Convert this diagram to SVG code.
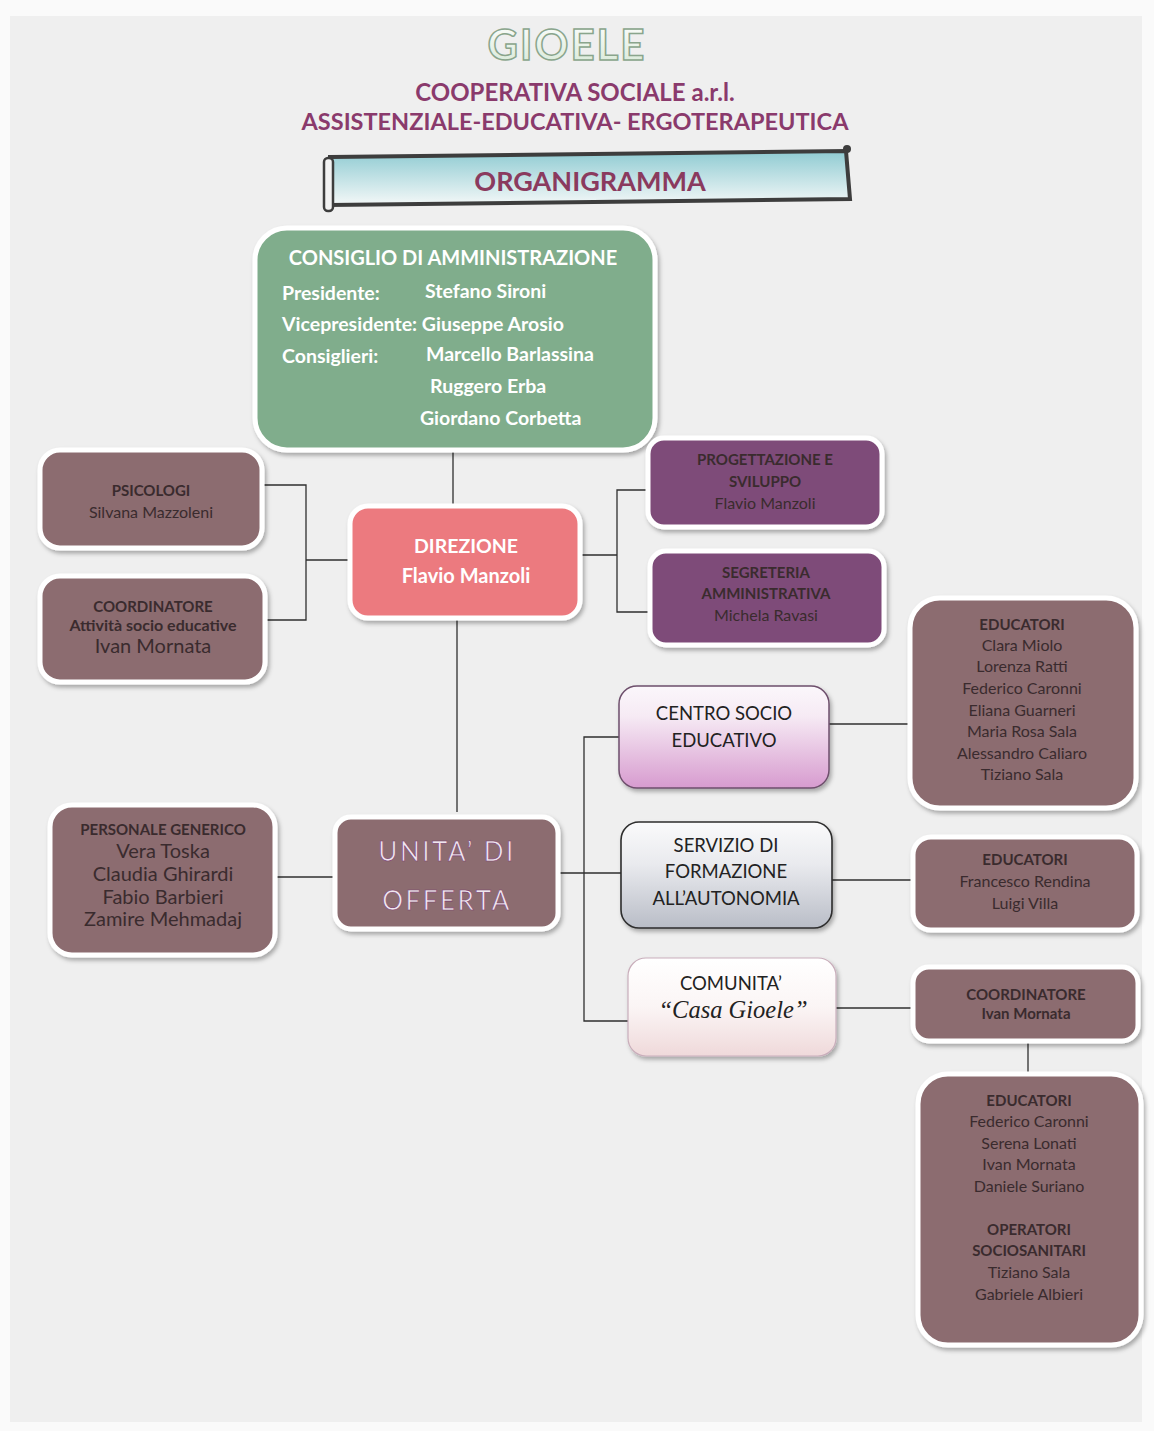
<svg xmlns="http://www.w3.org/2000/svg" width="1154" height="1431" viewBox="0 0 1154 1431">
<defs>
<style>
text{font-family:Lato,"Open Sans","Liberation Sans",sans-serif;text-anchor:middle}
.card{stroke:#ffffff;stroke-width:5;filter:url(#sh)}
.mauve{fill:#8c6c70}
.purple{fill:#7e4b79}
.dk{fill:#3a2b2e}
.b{font-weight:700}
.h{font-size:15px;font-weight:700}
.n{font-size:16px}
.conn{stroke:#2f2f2f;stroke-width:1.3;fill:none}
.wt{fill:#ffffff;font-weight:700}
.cda{fill:#ffffff;font-weight:700;font-size:19.5px;text-anchor:start}
</style>
<filter id="sh" x="-10%" y="-10%" width="125%" height="130%">
<feDropShadow dx="2" dy="3" stdDeviation="2" flood-color="#000" flood-opacity="0.3"/>
</filter>
<linearGradient id="gBanner" x1="0" y1="0" x2="0" y2="1">
<stop offset="0" stop-color="#8fcbd2"/><stop offset="1" stop-color="#f4f8f8"/>
</linearGradient>
<linearGradient id="gCse" x1="0" y1="0" x2="0" y2="1">
<stop offset="0" stop-color="#fbf7fb"/><stop offset="0.3" stop-color="#f6eaf4"/><stop offset="1" stop-color="#d79bcf"/>
</linearGradient>
<linearGradient id="gSfa" x1="0" y1="0" x2="0" y2="1">
<stop offset="0" stop-color="#fafafb"/><stop offset="0.4" stop-color="#e9eaee"/><stop offset="1" stop-color="#b9bdc7"/>
</linearGradient>
<linearGradient id="gCom" x1="0" y1="0" x2="0" y2="1">
<stop offset="0" stop-color="#ffffff"/><stop offset="0.5" stop-color="#fbf5f5"/><stop offset="1" stop-color="#efd9da"/>
</linearGradient>
<linearGradient id="gTitle" x1="0" y1="0" x2="0" y2="1">
<stop offset="0" stop-color="#ffffff"/><stop offset="1" stop-color="#d6e8d6"/>
</linearGradient>
</defs>

<rect width="1154" height="1431" fill="#fafafa"/>
<rect x="10" y="16" width="1132" height="1406" fill="#efefef"/>

<g id="header">
<text x="567" y="60" font-size="42" font-weight="700" fill="url(#gTitle)" stroke="#8aa58c" stroke-width="1.5" letter-spacing="2">GIOELE</text>
<text x="575" y="101" font-size="24" font-weight="700" fill="#8a3a6c">COOPERATIVA SOCIALE a.r.l.</text>
<text x="575" y="130" font-size="23.5" font-weight="700" fill="#8a3a6c">ASSISTENZIALE-EDUCATIVA- ERGOTERAPEUTICA</text>
</g>

<g id="banner">
<path d="M330 157 L846 151 L850 199 L330 205 Z" fill="url(#gBanner)" stroke="#3d3d3d" stroke-width="4"/>
<rect x="324" y="158" width="9" height="53" rx="4" fill="#f2f2f2" stroke="#3d3d3d" stroke-width="2.5"/>
<circle cx="847" cy="149" r="4" fill="#3d3d3d"/>
<text x="590" y="191" font-size="27" font-weight="700" fill="#8a3a5e">ORGANIGRAMMA</text>
</g>

<g id="connectors">
<path class="conn" d="M453 450 V506"/>
<path class="conn" d="M262 485 H306 V620 H265 M306 560 H350"/>
<path class="conn" d="M580 555 H617 M648 490 H617 V612 H650"/>
<path class="conn" d="M457 618 V812"/>
<path class="conn" d="M275 877 H335"/>
<path class="conn" d="M558 873 H622 M619 737 H584 V1021 H628"/>
<path class="conn" d="M829 724 H910"/>
<path class="conn" d="M832 880 H913"/>
<path class="conn" d="M836 1008 H913"/>
<path class="conn" d="M1028 1041 V1074"/>
</g>

<g id="cda">
<rect class="card" x="255" y="228" width="400" height="222" rx="32" fill="#80ad8c"/>
<text class="wt" x="453" y="265" font-size="20">CONSIGLIO DI AMMINISTRAZIONE</text>
<text class="cda" x="282" y="300">Presidente:</text>
<text class="cda" x="425" y="298">Stefano Sironi</text>
<text class="cda" x="282" y="331">Vicepresidente: Giuseppe Arosio</text>
<text class="cda" x="282" y="363">Consiglieri:</text>
<text class="cda" x="426" y="361">Marcello Barlassina</text>
<text class="cda" x="430" y="393">Ruggero Erba</text>
<text class="cda" x="420" y="425">Giordano Corbetta</text>
</g>

<g id="psicologi">
<rect class="card mauve" x="40" y="450" width="222" height="98" rx="20"/>
<text class="dk h" x="151" y="496">PSICOLOGI</text>
<text class="dk n" x="151" y="518">Silvana Mazzoleni</text>
</g>

<g id="coordinatore-ase">
<rect class="card mauve" x="40" y="576" width="225" height="106" rx="20"/>
<text class="dk h" x="153" y="612">COORDINATORE</text>
<text class="dk b" x="153" y="631" font-size="16">Attività socio educative</text>
<text class="dk" x="153" y="653" font-size="20">Ivan Mornata</text>
</g>

<g id="direzione">
<rect class="card" x="350" y="506" width="230" height="112" rx="18" fill="#ec7a7f"/>
<text class="wt" x="466" y="553" font-size="19.5" font-weight="400">DIREZIONE</text>
<text class="wt" x="466" y="583" font-size="20" font-weight="400">Flavio Manzoli</text>
</g>

<g id="progettazione">
<rect class="card purple" x="648" y="438" width="234" height="89" rx="16"/>
<text class="dk h" x="765" y="465">PROGETTAZIONE E</text>
<text class="dk h" x="765" y="487">SVILUPPO</text>
<text class="dk n" x="765" y="509">Flavio Manzoli</text>
</g>

<g id="segreteria">
<rect class="card purple" x="650" y="551" width="234" height="94" rx="16"/>
<text class="dk h" x="766" y="578">SEGRETERIA</text>
<text class="dk h" x="766" y="599">AMMINISTRATIVA</text>
<text class="dk n" x="766" y="621">Michela Ravasi</text>
</g>

<g id="centro-socio-educativo">
<rect x="619" y="686" width="210" height="102" rx="18" fill="url(#gCse)" stroke="#6e4f6c" stroke-width="1.5" filter="url(#sh)"/>
<text x="724" y="720" font-size="18.5" fill="#222">CENTRO SOCIO</text>
<text x="724" y="747" font-size="18.5" fill="#222">EDUCATIVO</text>
</g>

<g id="educatori-cse">
<rect class="card mauve" x="910" y="598" width="226" height="210" rx="30"/>
<text class="dk h" x="1022" y="630">EDUCATORI</text>
<text class="dk n" x="1022" y="651">Clara Miolo</text>
<text class="dk n" x="1022" y="672">Lorenza Ratti</text>
<text class="dk n" x="1022" y="694">Federico Caronni</text>
<text class="dk n" x="1022" y="716">Eliana Guarneri</text>
<text class="dk n" x="1022" y="737">Maria Rosa Sala</text>
<text class="dk n" x="1022" y="759">Alessandro Caliaro</text>
<text class="dk n" x="1022" y="780">Tiziano Sala</text>
</g>

<g id="personale-generico">
<rect class="card mauve" x="50" y="805" width="225" height="150" rx="22"/>
<text class="dk h" x="163" y="835">PERSONALE GENERICO</text>
<text class="dk" x="163" y="858" font-size="20">Vera Toska</text>
<text class="dk" x="163" y="881" font-size="20">Claudia Ghirardi</text>
<text class="dk" x="163" y="904" font-size="20">Fabio Barbieri</text>
<text class="dk" x="163" y="926" font-size="20">Zamire Mehmadaj</text>
</g>

<g id="unita-offerta">
<rect class="card mauve" x="335" y="817" width="223" height="112" rx="16"/>
<text x="447" y="861" font-size="26" letter-spacing="2.5" fill="#efe6ee" stroke="#7a3c6e" stroke-width="0.6">UNITA’ DI</text>
<text x="447" y="910" font-size="26" letter-spacing="2.5" fill="#efe6ee" stroke="#7a3c6e" stroke-width="0.6">OFFERTA</text>
</g>

<g id="servizio-formazione">
<rect x="621" y="822" width="211" height="106" rx="18" fill="url(#gSfa)" stroke="#2d2d2d" stroke-width="1.6" filter="url(#sh)"/>
<text x="726" y="852" font-size="18.5" fill="#222">SERVIZIO DI</text>
<text x="726" y="878" font-size="18.5" fill="#222">FORMAZIONE</text>
<text x="726" y="905" font-size="18.5" fill="#222">ALL’AUTONOMIA</text>
</g>

<g id="educatori-sfa">
<rect class="card mauve" x="913" y="837" width="224" height="93" rx="18"/>
<text class="dk h" x="1025" y="865">EDUCATORI</text>
<text class="dk n" x="1025" y="887">Francesco Rendina</text>
<text class="dk n" x="1025" y="909">Luigi Villa</text>
</g>

<g id="comunita">
<rect x="628" y="958" width="208" height="98" rx="18" fill="url(#gCom)" stroke="#c9aebb" stroke-width="1.2" filter="url(#sh)"/>
<text x="731" y="990" font-size="18.5" fill="#222">COMUNITA’</text>
<text x="733" y="1018" font-size="24.5" font-style="italic" fill="#222" style="font-family:'Liberation Serif','DejaVu Serif',serif">“Casa Gioele”</text>
</g>

<g id="coordinatore-comunita">
<rect class="card mauve" x="913" y="967" width="225" height="74" rx="16"/>
<text class="dk h" x="1026" y="1000">COORDINATORE</text>
<text class="dk h" x="1026" y="1019">Ivan Mornata</text>
</g>

<g id="educatori-comunita">
<rect class="card mauve" x="918" y="1074" width="223" height="271" rx="30"/>
<text class="dk h" x="1029" y="1106">EDUCATORI</text>
<text class="dk n" x="1029" y="1127">Federico Caronni</text>
<text class="dk n" x="1029" y="1149">Serena Lonati</text>
<text class="dk n" x="1029" y="1170">Ivan Mornata</text>
<text class="dk n" x="1029" y="1192">Daniele Suriano</text>
<text class="dk h" x="1029" y="1235">OPERATORI</text>
<text class="dk h" x="1029" y="1256">SOCIOSANITARI</text>
<text class="dk n" x="1029" y="1278">Tiziano Sala</text>
<text class="dk n" x="1029" y="1300">Gabriele Albieri</text>
</g>
</svg>
